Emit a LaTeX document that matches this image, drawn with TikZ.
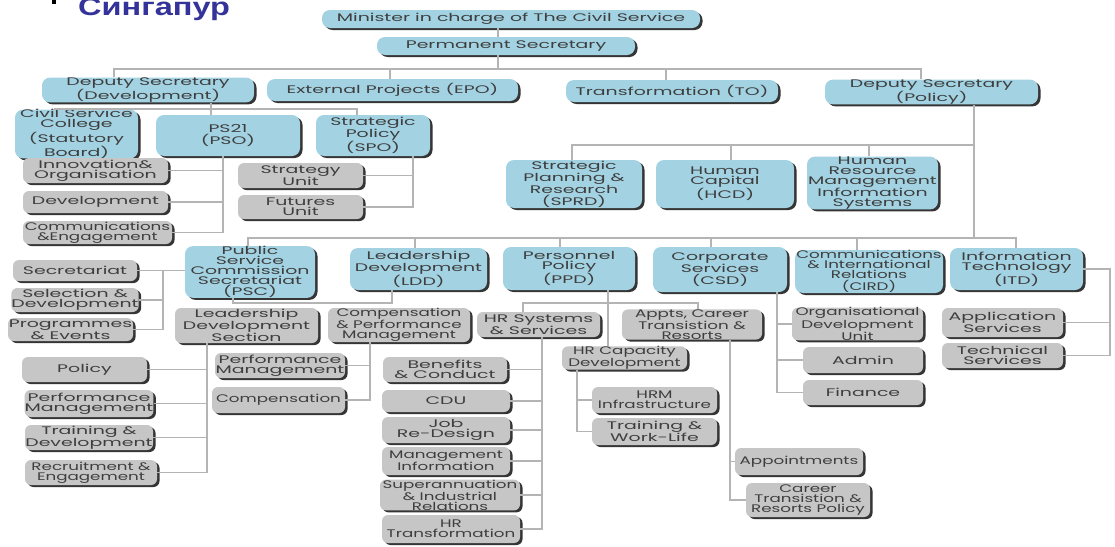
\documentclass[tikz,border=0pt]{standalone}
\usepackage{fontspec}
\setmainfont{Liberation Sans}
\newfontfamily\orgfont[FakeStretch=1.72]{Poppins}
\newfontfamily\orgnarrowfont[FakeStretch=1.52]{Poppins}
\newfontfamily\titlefont[FakeStretch=1.3]{Liberation Sans}
\usetikzlibrary{shadows}
\definecolor{boxblue}{HTML}{A3D3E3}
\definecolor{boxgrey}{HTML}{C6C6C6}
\definecolor{txtgrey}{HTML}{3E3E3E}
\definecolor{linegrey}{HTML}{B4B4B4}
\definecolor{shadowc}{HTML}{353535}
\definecolor{titleblue}{HTML}{333399}
\tikzset{
  unitbase/.style={inner sep=0pt, align=center, text=txtgrey,
     font=\orgfont\fontsize{11}{10}\selectfont,
     drop shadow={shadow xshift=2.5pt, shadow yshift=-2pt, fill=shadowc, opacity=1}},
  bluebox/.style={unitbase, fill=boxblue, rounded corners=8pt},
  greybox/.style={unitbase, fill=boxgrey, rounded corners=6pt},
  narrow/.style={font=\orgnarrowfont\fontsize{11}{10}\selectfont},
  conn/.style={draw=linegrey, line width=1.5pt},
  titletext/.style={anchor=base west, inner sep=0pt, text=titleblue,
     font=\titlefont\bfseries\fontsize{25}{25}\selectfont},
}
\newcommand{\orgbox}[7]{\node[#2, minimum width={(#5)-(#3)}, minimum height={(#6)-(#4)}] (#1) at ({((#3)+(#5))/2},{((#4)+(#6))/2}) {#7};}
\begin{document}
\begin{tikzpicture}[x=1pt,y=-1pt]
\fill[white] (0,0) rectangle (1115,546);
\useasboundingbox (0,0) rectangle (1115,546);
% title
\fill[black] (52,0) rectangle (56,4);
\node[titletext] (title) at (78,16) {Сингапур};
% connector junctions
\coordinate (jtop) at (498,69);
\coordinate (b1l) at (114,69); \coordinate (b1r) at (921,69);
\coordinate (b1e) at (390,69); \coordinate (b1t) at (666,69);
\coordinate (b2l) at (55,109); \coordinate (b2m) at (211,109); \coordinate (b2r) at (357,109);
\coordinate (v1) at (223,0); \coordinate (v2) at (413,0);
\coordinate (b3r) at (974,238); \coordinate (b3y) at (974,145);
\coordinate (b3a) at (572,145); \coordinate (b3b) at (731,145); \coordinate (b3c) at (869,145);
\coordinate (b4l) at (248,238); \coordinate (b4r) at (1016,238);
\coordinate (b4a) at (415,238); \coordinate (b4b) at (560,238); \coordinate (b4c) at (711,238); \coordinate (b4d) at (857,238);
\coordinate (v3) at (163,0);
\coordinate (b5a) at (233,303); \coordinate (b5b) at (392,303);
\coordinate (v4) at (207,0); \coordinate (v5) at (370,0);
\coordinate (v6) at (608,0); \coordinate (b6l) at (523,303); \coordinate (b6r) at (698,303);
\coordinate (v7) at (542,0); \coordinate (v8) at (577,0); \coordinate (v9) at (730,0);
\coordinate (v10) at (777,0); \coordinate (v11) at (1110,0);
% blue boxes
\orgbox{minister}{bluebox}{322}{10}{700}{28}{Minister in charge of The Civil Service}
\orgbox{ps}{bluebox}{377}{37}{635}{55}{Permanent Secretary}
\orgbox{dsdev}{bluebox}{42}{79}{254}{101}{Deputy Secretary\\(Development)}
\orgbox{epo}{bluebox}{267}{79}{518}{101}{External Projects (EPO)}
\orgbox{tro}{bluebox}{566}{80}{778}{102}{Transformation (TO)}
\orgbox{dspol}{bluebox}{825}{80}{1038}{104}{Deputy Secretary\\(Policy)}
\orgbox{csc}{bluebox}{15}{116}{138}{152}{Civil Service\\College\\(Statutory\\Board)}
\orgbox{ps21}{bluebox}{156}{115}{300}{156}{PS21\\(PSO)}
\orgbox{spo}{bluebox}{316}{115}{430}{156}{Strategic\\Policy\\(SPO)}
\orgbox{sprd}{bluebox}{506}{160}{642}{208}{Strategic\\Planning \&\\Research\\(SPRD)}
\orgbox{hcd}{bluebox}{656}{160}{794}{208}{Human\\Capital\\(HCD)}
\orgbox{hrmis}{bluebox}{807}{158}{938}{208}{Human\\Resource\\Management\\Information\\Systems}
\orgbox{psc}{bluebox}{185}{248}{315}{296}{Public\\Service\\Commission\\Secretariat\\(PSC)}
\orgbox{ldd}{bluebox}{350}{248}{487}{290}{Leadership\\Development\\(LDD)}
\orgbox{ppd}{bluebox}{503}{247}{635}{290}{Personnel\\Policy\\(PPD)}
\orgbox{csd}{bluebox}{653}{247}{787}{292}{Corporate\\Services\\(CSD)}
\orgbox{cird}{bluebox, narrow}{795}{250}{943}{293}{Communications\\\& International\\Relations\\(CIRD)}
\orgbox{itd}{bluebox}{950}{248}{1083}{290}{Information\\Technology\\(ITD)}
% grey boxes
\orgbox{innov}{greybox}{23}{158}{168}{183}{Innovation\&\\Organisation}
\orgbox{devel}{greybox}{23}{191}{168}{213}{Development}
\orgbox{comm}{greybox, narrow}{23}{221}{172}{244}{Communications\\\&Engagement}
\orgbox{strat}{greybox}{238}{163}{363}{188}{Strategy\\Unit}
\orgbox{futur}{greybox}{238}{195}{363}{219}{Futures\\Unit}
\orgbox{secr}{greybox}{13}{260}{137}{281}{Secretariat}
\orgbox{sel}{greybox}{13}{288}{137}{312}{Selection \&\\Development}
\orgbox{prog}{greybox}{8}{318}{133}{341}{Programmes\\\& Events}
\orgbox{lds}{greybox}{175}{308}{318}{343}{Leadership\\Development\\Section}
\orgbox{cpm}{greybox, narrow}{328}{308}{470}{342}{Compensation\\\& Performance\\Management}
\orgbox{policy}{greybox}{22}{357}{147}{382}{Policy}
\orgbox{perfa}{greybox}{25}{390}{153}{417}{Performance\\Management}
\orgbox{train}{greybox}{25}{425}{153}{450}{Training \&\\Development}
\orgbox{recr}{greybox, narrow}{25}{460}{157}{485}{Recruitment \&\\Engagement}
\orgbox{perfb}{greybox}{215}{353}{345}{378}{Performance\\Management}
\orgbox{compn}{greybox, narrow}{212}{387}{345}{413}{Compensation}
\orgbox{hrss}{greybox}{477}{312}{600}{337}{HR Systems\\\& Services}
\orgbox{appts}{greybox, narrow}{622}{311}{762}{338}{Appts, Career\\Transistion \&\\Resorts}
\orgbox{hrcap}{greybox, narrow}{562}{347}{687}{369}{HR Capacity\\Development}
\orgbox{benef}{greybox}{383}{357}{507}{382}{Benefits\\\& Conduct}
\orgbox{cdu}{greybox}{382}{390}{510}{412}{CDU}
\orgbox{job}{greybox}{382}{417}{510}{443}{Job\\Re-Design}
\orgbox{mgmt}{greybox, narrow}{382}{447}{510}{475}{Management\\Information}
\orgbox{super}{greybox, narrow}{380}{480}{520}{510}{Superannuation\\\& Industrial\\Relations}
\orgbox{hrt}{greybox, narrow}{382}{515}{520}{543}{HR\\Transformation}
\orgbox{hrm}{greybox, narrow}{592}{387}{717}{413}{HRM\\Infrastructure}
\orgbox{twl}{greybox}{592}{418}{717}{445}{Training \&\\Work-Life}
\orgbox{appt}{greybox, narrow}{735}{448}{863}{475}{Appointments}
\orgbox{career}{greybox, narrow}{746}{483}{870}{517}{Career\\Transistion \&\\Resorts Policy}
\orgbox{odu}{greybox, narrow}{792}{308}{923}{340}{Organisational\\Development\\Unit}
\orgbox{admin}{greybox}{803}{347}{923}{373}{Admin}
\orgbox{fin}{greybox}{803}{380}{923}{405}{Finance}
\orgbox{apps}{greybox}{942}{308}{1063}{337}{Application\\Services}
\orgbox{tech}{greybox}{942}{343}{1063}{368}{Technical\\Services}
% connectors
\draw[conn] (minister.south -| jtop) -- (ps.north -| jtop);
\draw[conn] (ps.south -| jtop) -- (jtop);
\draw[conn] (dsdev.north -| b1l) -- (b1l) -- (b1r) -- (dspol.north -| b1r);
\draw[conn] (b1e) -- (epo.north -| b1e);
\draw[conn] (b1t) -- (tro.north -| b1t);
\draw[conn] (csc.north -| b2l) -- (b2l) -- (b2r) -- (spo.north -| b2r);
\draw[conn] (dsdev.south -| b2m) -- (ps21.north -| b2m);
\draw[conn] (ps21.south -| v1) |- (comm.east);
\draw[conn] (innov.east) -- (innov.east -| v1);
\draw[conn] (devel.east) -- (devel.east -| v1);
\draw[conn] (spo.south -| v2) |- (futur.east);
\draw[conn] (strat.east) -- (strat.east -| v2);
\draw[conn] (dspol.south -| b3r) -- (b3r);
\draw[conn] (sprd.north -| b3a) -- (b3a) -- (b3y);
\draw[conn] (b3b) -- (hcd.north -| b3b);
\draw[conn] (b3c) -- (hrmis.north -| b3c);
\draw[conn] (psc.north -| b4l) -- (b4l) -- (b4r) -- (itd.north -| b4r);
\draw[conn] (b4a) -- (ldd.north -| b4a);
\draw[conn] (b4b) -- (ppd.north -| b4b);
\draw[conn] (b4c) -- (csd.north -| b4c);
\draw[conn] (b4d) -- (cird.north -| b4d);
\draw[conn] (secr.east) -- (psc.west |- secr.east);
\draw[conn] (secr.east -| v3) |- (prog.east);
\draw[conn] (sel.east) -- (sel.east -| v3);
\draw[conn] (psc.south -| b5a) -- (b5a) -- (b5b) -- (ldd.south -| b5b);
\draw[conn] (lds.south -| v4) |- (recr.east);
\draw[conn] (policy.east) -- (policy.east -| v4);
\draw[conn] (perfa.east) -- (perfa.east -| v4);
\draw[conn] (train.east) -- (train.east -| v4);
\draw[conn] (cpm.south -| v5) |- (compn.east);
\draw[conn] (perfb.east) -- (perfb.east -| v5);
\draw[conn] (ppd.south -| v6) -- (hrcap.north -| v6);
\draw[conn] (hrss.north -| b6l) -- (b6l) -- (b6r) -- (appts.north -| b6r);
\draw[conn] (hrss.south -| v7) |- (hrt.east);
\draw[conn] (benef.east) -- (benef.east -| v7);
\draw[conn] (cdu.east) -- (cdu.east -| v7);
\draw[conn] (job.east) -- (job.east -| v7);
\draw[conn] (mgmt.east) -- (mgmt.east -| v7);
\draw[conn] (super.east) -- (super.east -| v7);
\draw[conn] (hrcap.south -| v8) |- (twl.west);
\draw[conn] (hrm.west) -- (hrm.west -| v8);
\draw[conn] (appts.south -| v9) |- (career.west);
\draw[conn] (appt.west) -- (appt.west -| v9);
\draw[conn] (csd.south -| v10) |- (fin.west);
\draw[conn] (odu.west) -- (odu.west -| v10);
\draw[conn] (admin.west) -- (admin.west -| v10);
\draw[conn] (itd.east) -- (itd.east -| v11) |- (tech.east);
\draw[conn] (apps.east) -- (apps.east -| v11);
\end{tikzpicture}
\end{document}
